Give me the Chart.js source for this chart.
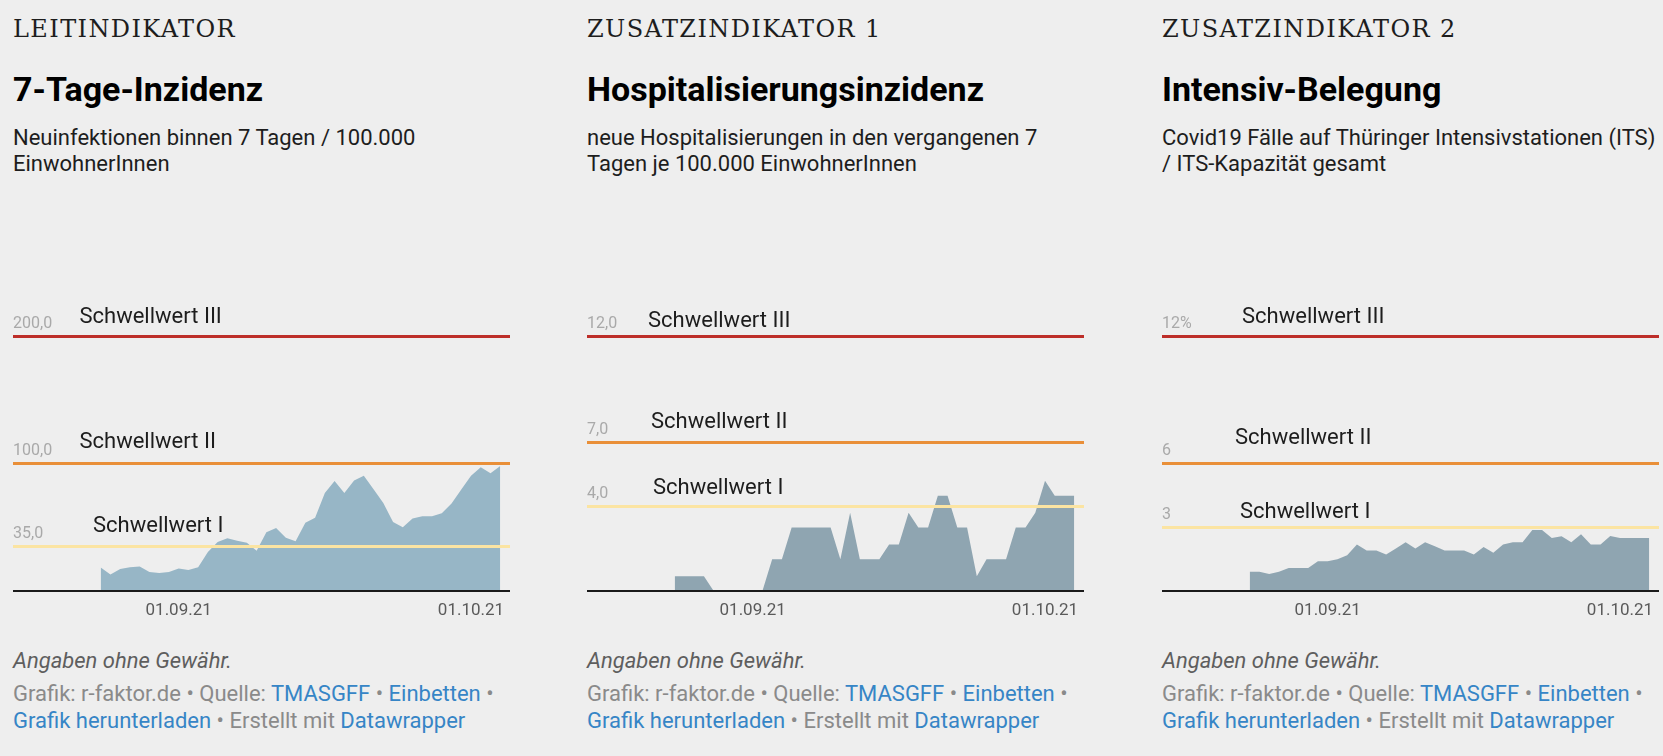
<!DOCTYPE html>
<html><head><meta charset="utf-8">
<script src="https://cdn.jsdelivr.net/npm/chart.js@4.4.1/dist/chart.umd.min.js"></script>
<style>
html,body{margin:0;padding:0;background:#eeeeee;width:1663px;height:756px;overflow:hidden;font-family:Roboto,sans-serif;}
.col{position:absolute;top:0;width:497px;height:756px;}
.kicker{position:absolute;left:0;top:14px;font-family:"DejaVu Serif",serif;font-size:24px;line-height:30px;letter-spacing:1.4px;color:#1d1d1d;white-space:nowrap;}
.title{position:absolute;left:0;top:69px;font-weight:700;font-size:34px;line-height:40px;color:#000;white-space:nowrap;}
.sub{position:absolute;left:0;top:125px;font-size:22px;line-height:26px;color:#1d1d1d;white-space:nowrap;}
canvas{position:absolute;left:0;top:272px;width:497px;height:359px;}
.note{position:absolute;left:0;top:648px;font-style:italic;font-size:22px;line-height:26px;color:#5e5e5e;white-space:nowrap;}
.foot{position:absolute;left:0;top:681px;font-size:22px;line-height:26.5px;color:#8a8a8a;white-space:nowrap;}
.foot a{color:#3685c6;text-decoration:none;}
</style></head>
<body>
<div class="col" style="left:13px">
  <div class="kicker">LEITINDIKATOR</div>
  <div class="title">7-Tage-Inzidenz</div>
  <div class="sub">Neuinfektionen binnen 7 Tagen / 100.000<br>EinwohnerInnen</div>
  <canvas id="c1" width="497" height="359"></canvas>
  <div class="note">Angaben ohne Gewähr.</div>
  <div class="foot">Grafik: r-faktor.de • Quelle: <a>TMASGFF</a> • <a>Einbetten</a> •<br><a>Grafik herunterladen</a> • Erstellt mit <a>Datawrapper</a></div>
</div>
<div class="col" style="left:587px">
  <div class="kicker">ZUSATZINDIKATOR 1</div>
  <div class="title">Hospitalisierungsinzidenz</div>
  <div class="sub">neue Hospitalisierungen in den vergangenen 7<br>Tagen je 100.000 EinwohnerInnen</div>
  <canvas id="c2" width="497" height="359"></canvas>
  <div class="note">Angaben ohne Gewähr.</div>
  <div class="foot">Grafik: r-faktor.de • Quelle: <a>TMASGFF</a> • <a>Einbetten</a> •<br><a>Grafik herunterladen</a> • Erstellt mit <a>Datawrapper</a></div>
</div>
<div class="col" style="left:1162px">
  <div class="kicker">ZUSATZINDIKATOR 2</div>
  <div class="title">Intensiv-Belegung</div>
  <div class="sub">Covid19 Fälle auf Thüringer Intensivstationen (ITS)<br>/ ITS-Kapazität gesamt</div>
  <canvas id="c3" width="497" height="359"></canvas>
  <div class="note">Angaben ohne Gewähr.</div>
  <div class="foot">Grafik: r-faktor.de • Quelle: <a>TMASGFF</a> • <a>Einbetten</a> •<br><a>Grafik herunterladen</a> • Erstellt mit <a>Datawrapper</a></div>
</div>
<script>
// ---- data ----
const dates = ['24.08.21','25.08.21','26.08.21','27.08.21','28.08.21','29.08.21','30.08.21','31.08.21',
  '01.09.21','02.09.21','03.09.21','04.09.21','05.09.21','06.09.21','07.09.21','08.09.21','09.09.21','10.09.21',
  '11.09.21','12.09.21','13.09.21','14.09.21','15.09.21','16.09.21','17.09.21','18.09.21','19.09.21','20.09.21',
  '21.09.21','22.09.21','23.09.21','24.09.21','25.09.21','26.09.21','27.09.21','28.09.21','29.09.21','30.09.21',
  '01.10.21','02.10.21','03.10.21','04.10.21'];
const axisStart = '15.08.21';
const axisEnd = '05.10.21';
const xTickDates = ['01.09.21','01.10.21'];

const inzidenz = [18.4,12.9,17.3,18.6,19.2,15.0,14.2,15.0,17.8,16.5,18.6,30.7,38.6,41.5,39.6,38.0,31.7,46.2,49.6,42.0,39.1,
  53.8,57.7,77.2,86.6,77.2,86.9,90.6,80.1,69.3,54.3,50.1,57.0,58.8,58.8,61.2,68.8,79.8,90.6,97.4,92.7,98.4];
const hospitalisierung = [0.7,0.7,0.7,0.7,0,0,0,0,0,0,1.5,1.5,3.0,3.0,3.0,3.0,3.0,1.5,3.7,1.5,1.5,
  1.5,2.2,2.2,3.7,3.0,3.0,4.5,4.5,3.0,3.0,0.7,1.5,1.5,1.5,3.0,3.0,3.7,5.2,4.5,4.5,4.5];
const intensiv = [0.91,0.91,0.80,0.91,1.09,1.09,1.09,1.40,1.40,1.50,1.69,2.19,1.91,1.91,1.72,2.01,2.30,2.01,2.30,2.11,1.91,
  1.91,1.91,1.72,2.08,1.81,2.19,2.30,2.30,2.88,2.88,2.50,2.58,2.30,2.68,2.20,2.20,2.60,2.50,2.50,2.50,2.50];

const thresholdNames = ['Schwellwert I','Schwellwert II','Schwellwert III'];
const inzidenzTicks = [35,100,200];
const inzidenzTickLabels = ['35,0','100,0','200,0'];
const hospTicks = [4,7,12];
const hospTickLabels = ['4,0','7,0','12,0'];
const itsTicks = [3,6,12];
const itsTickLabels = ['3','6','12%'];

// ---- helpers ----
function dayOf(s){
  const [d,m,y] = s.split('.').map(Number);
  const [d0,m0,y0] = axisStart.split('.').map(Number);
  return (Date.UTC(2000+y,m-1,d) - Date.UTC(2000+y0,m0-1,d0)) / 864e5;
}
const thresholdColors = ['#fbe4a2','#e98f38','#bd2e29'];

function build(id, values, yMax, yTicks, yLabels, fill, notes){
  const pts = dates.map((d,i)=>({x:dayOf(d), y:values[i]}));
  const notePlugin = {
    id:'notes'+id,
    afterDraw(chart){
      const {ctx} = chart; const x = chart.scales.x, y = chart.scales.y;
      ctx.save();
      ctx.font = '22px Roboto';
      ctx.fillStyle = '#1d1d1d';
      ctx.textAlign = 'left';
      ctx.textBaseline = 'middle';
      notes.forEach((n,i)=>ctx.fillText(thresholdNames[i], x.getPixelForValue(n[0]), y.getPixelForValue(n[1]) + 1));
      ctx.restore();
    }
  };
  new Chart(document.getElementById(id), {
    type:'line',
    data:{datasets:[{data:pts, fill:'origin', backgroundColor:fill, borderWidth:0, pointRadius:0, tension:0}]},
    options:{
      responsive:false, animation:false, devicePixelRatio:1,
      layout:{padding:{top:14,left:0,right:0,bottom:0}},
      plugins:{legend:{display:false}, tooltip:{enabled:false}},
      scales:{
        x:{type:'linear', min:0, max:dayOf(axisEnd),
          grid:{display:false, drawTicks:false},
          border:{display:true, color:'#1a1a1a', width:2, z:2},
          afterBuildTicks:s=>{ s.ticks = xTickDates.map(d=>({value:dayOf(d)})); },
          ticks:{autoSkip:false, maxRotation:0, padding:10, color:'#5a5a5a', font:{family:'Roboto', size:17},
            callback:(v)=>{ const i = xTickDates.map(dayOf).indexOf(v); return i>=0 ? xTickDates[i] : ''; }},
          afterFit:s=>{ s.height = 40; s.paddingLeft = 0; s.paddingRight = 0; }
        },
        y:{min:0, max:yMax,
          afterBuildTicks:s=>{ s.ticks = yTicks.map(v=>({value:v})); },
          grid:{drawTicks:false, lineWidth:3, z:1,
            color:(c)=>{ const i = yTicks.indexOf(c.tick && c.tick.value); return i>=0 ? thresholdColors[i] : 'rgba(0,0,0,0)'; }},
          border:{display:false},
          ticks:{mirror:true, padding:0, labelOffset:-12.5, color:'#a9a9a9', font:{family:'Roboto', size:16},
            callback:(v)=>{ const i = yTicks.indexOf(v); return i>=0 ? yLabels[i] : ''; }},
          afterFit:s=>{ s.width = 0; }
        }
      }
    },
    plugins:[notePlugin]
  });
}

build('c1', inzidenz, 240, inzidenzTicks, inzidenzTickLabels, '#97b6c6',
  [[8.21,51.2],[6.82,117.3],[6.82,215.7]]);
build('c2', hospitalisierung, 14.4, hospTicks, hospTickLabels, '#8fa5b1',
  [[6.77,4.87],[6.57,7.98],[6.26,12.75]]);
build('c3', intensiv, 14.4, itsTicks, itsTickLabels, '#8fa5b1',
  [[8.0,3.73],[7.49,7.23],[8.21,12.94]]);
</script>
</body></html>
